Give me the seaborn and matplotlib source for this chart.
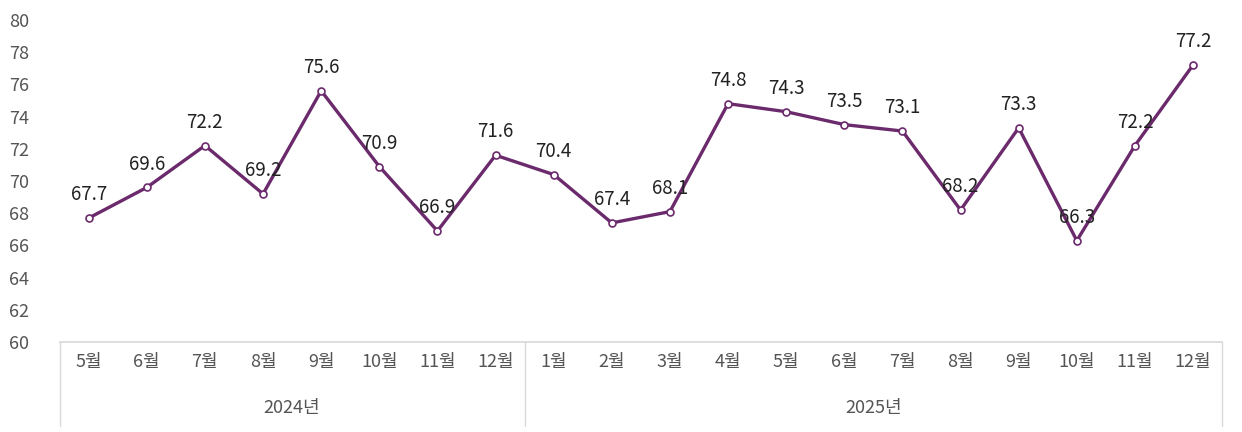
import matplotlib
matplotlib.use("Agg")
import matplotlib.pyplot as plt
import seaborn as sns
import pandas as pd
from matplotlib.transforms import blended_transform_factory

months = ["5월","6월","7월","8월","9월","10월","11월","12월","1월","2월","3월","4월","5월","6월","7월","8월","9월","10월","11월","12월"]
years = ["2024년"]*8 + ["2025년"]*12
values = [67.7,69.6,72.2,69.2,75.6,70.9,66.9,71.6,70.4,67.4,68.1,74.8,74.3,73.5,73.1,68.2,73.3,66.3,72.2,77.2]
year_labels = ["2024년","2025년"]

sns.set_theme(style="white")
plt.rcParams['font.family'] = ['Noto Sans CJK KR', 'DejaVu Sans']

df = pd.DataFrame({"idx": range(len(values)), "v": values})
fig = plt.figure(figsize=(12.42, 4.32), dpi=100)
ax = fig.add_axes([0.048, 0.208, 0.936, 0.746])
col = "#6b2a6c"
sns.lineplot(data=df, x="idx", y="v", ax=ax, color=col, lw=2.4, marker="o",
             markersize=5, markerfacecolor="white", markeredgecolor=col, markeredgewidth=1.2)
n = len(values)
ax.set_xlim(-0.5, n-0.5)
ax.set_ylim(60, 80)
ax.set_yticks(range(60, 81, 2))
ax.tick_params(axis='y', labelsize=13, colors="#555555", length=0, pad=22)
ax.set_xticks(range(n))
ax.set_xticklabels(months, fontsize=13, color="#555555")
ax.tick_params(axis='x', length=0, pad=8)
ax.set_xlabel(""); ax.set_ylabel("")
for s in ["top", "right", "left"]:
    ax.spines[s].set_visible(False)
ax.spines["bottom"].set_color("#d9d9d9")
for i, v in enumerate(values):
    ax.text(i, v + 0.8, f"{v}", ha="center", va="bottom", fontsize=13.5, color="#222222")
tr = blended_transform_factory(ax.transData, ax.transAxes)
for xb in [-0.5, 7.5, n-0.5]:
    ax.plot([xb, xb], [0, -0.26], transform=tr, color="#d9d9d9", lw=1, clip_on=False)
starts = [0, 8]
ends = [7, n-1]
for lab, a, b in zip(year_labels, starts, ends):
    ax.text((a+b)/2, -0.205, lab, transform=tr, ha="center", va="center", fontsize=13, color="#555555")
fig.savefig("out.png", dpi=100)
